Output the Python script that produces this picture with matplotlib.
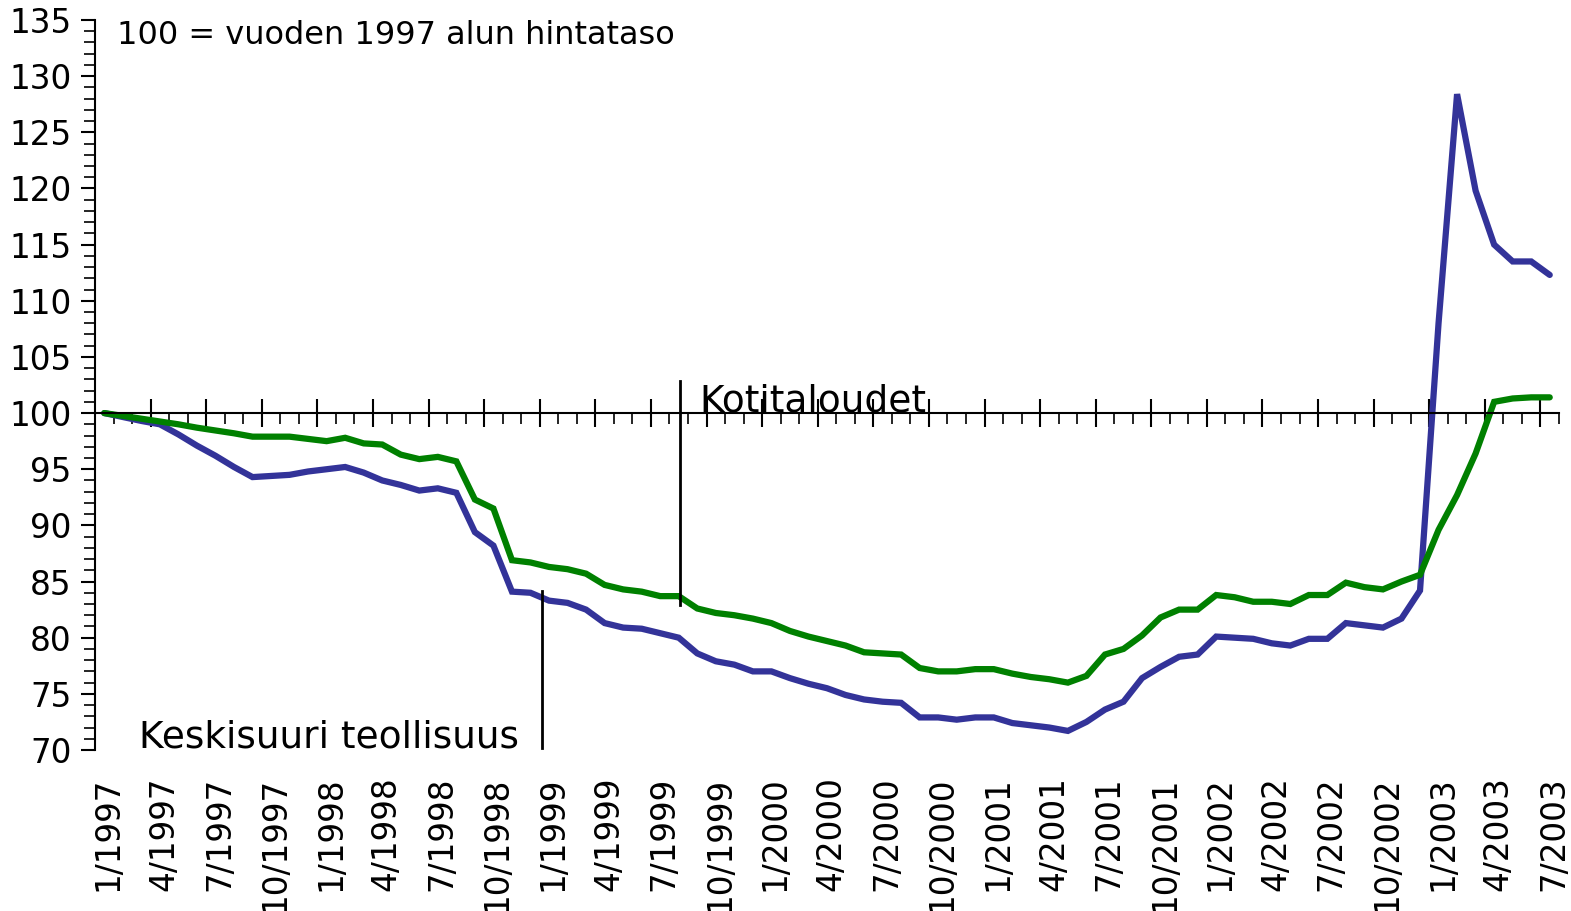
import matplotlib
matplotlib.use("Agg")
import matplotlib.pyplot as plt
import matplotlib.transforms as mtransforms
from matplotlib.ticker import FixedLocator, MultipleLocator

# monthly index 1/1997 .. 7/2003
months = [f"{m}/{y}" for y in range(1997, 2004) for m in range(1, 13)][:79]

# Keskisuuri teollisuus (blue)
industry = [100.0, 99.65, 99.3, 99.0, 98.1, 97.1, 96.2, 95.2, 94.3, 94.4,
            94.5, 94.8, 95.0, 95.2, 94.7, 94.0, 93.6, 93.1, 93.3, 92.9,
            89.4, 88.2, 84.1, 84.0, 83.3, 83.1, 82.5, 81.3, 80.9, 80.8,
            80.4, 80.0, 78.6, 77.9, 77.6, 77.0, 77.0, 76.4, 75.9, 75.5,
            74.9, 74.5, 74.3, 74.2, 72.9, 72.9, 72.7, 72.9, 72.9, 72.4,
            72.2, 72.0, 71.7, 72.5, 73.6, 74.3, 76.4, 77.4, 78.3, 78.5,
            80.1, 80.0, 79.9, 79.5, 79.3, 79.9, 79.9, 81.3, 81.1, 80.9,
            81.7, 84.2, 108.0, 128.4, 119.8, 115.0, 113.5, 113.5, 112.3]

# Kotitaloudet (green)
households = [100.0, 99.75, 99.5, 99.25, 99.0, 98.7, 98.45, 98.2, 97.9, 97.9,
              97.9, 97.7, 97.5, 97.8, 97.3, 97.2, 96.3, 95.9, 96.1, 95.7,
              92.3, 91.5, 86.9, 86.7, 86.3, 86.1, 85.7, 84.7, 84.3, 84.1,
              83.7, 83.7, 82.6, 82.2, 82.0, 81.7, 81.3, 80.6, 80.1, 79.7,
              79.3, 78.7, 78.6, 78.5, 77.3, 77.0, 77.0, 77.2, 77.2, 76.8,
              76.5, 76.3, 76.0, 76.6, 78.5, 79.0, 80.2, 81.8, 82.5, 82.5,
              83.8, 83.6, 83.2, 83.2, 83.0, 83.8, 83.8, 84.9, 84.5, 84.3,
              85.0, 85.6, 89.6, 92.7, 96.4, 101.0, 101.3, 101.4, 101.4]

tick_idx = list(range(0, 79, 3))
tick_labels = [months[i] for i in tick_idx]

plt.rcParams['font.family'] = ['DejaVu Sans']

fig = plt.figure(figsize=(15.71, 9.11), dpi=100)
ax = fig.add_axes([95 / 1571, 1 - 750 / 911, 1464 / 1571, 730 / 911])

x = list(range(len(months)))
ax.plot(x, industry, color='#333399', linewidth=4.5, solid_joinstyle='miter', solid_capstyle='round')
ax.plot(x, households, color='#008000', linewidth=4.5, solid_joinstyle='miter', solid_capstyle='round')

ax.set_xlim(-0.5, 78.5)
ax.set_ylim(70, 135)

# horizontal axis crosses at 100
ax.spines['top'].set_visible(False)
ax.spines['right'].set_visible(False)
ax.spines['bottom'].set_position(('data', 100))
ax.spines['bottom'].set_linewidth(1.5)
ax.spines['left'].set_linewidth(1.5)
ax.xaxis.set_major_locator(FixedLocator([k - 0.5 for k in range(3, 80, 3)]))
ax.xaxis.set_minor_locator(FixedLocator([k - 0.5 for k in range(0, 80)]))
ax.tick_params(axis='x', which='major', direction='inout', length=20, width=1.5, labelbottom=False)
ax.tick_params(axis='x', which='minor', direction='out', length=8, width=1.2)

ax.yaxis.set_major_locator(MultipleLocator(5))
ax.yaxis.set_minor_locator(MultipleLocator(1))
ax.tick_params(axis='y', which='major', direction='out', length=10, width=1.5, labelsize=23.5, pad=7)
ax.tick_params(axis='y', which='minor', direction='out', length=8, width=1.2)

# category labels at the bottom
sec = ax.secondary_xaxis(0)
sec.set_xticks(tick_idx)
sec.set_xticklabels(tick_labels, rotation=90, fontsize=23.5)
sec.tick_params(length=0, pad=19)
sec.spines['bottom'].set_visible(False)
shift = mtransforms.ScaledTranslation(4 / 100, 0, fig.dpi_scale_trans)
for lab in sec.get_xticklabels():
    lab.set_transform(lab.get_transform() + shift)

# annotations
ax.text(0.015, 0.979, '100 = vuoden 1997 alun hintataso', transform=ax.transAxes,
        fontsize=23, va='center', ha='left')
ax.plot([31.05, 31.05], [82.9, 102.9], color='black', linewidth=2)
ax.text(32.1, 100.1, 'Kotitaloudet', fontsize=27, va='baseline', ha='left')
ax.plot([23.6, 23.6], [70.2, 84.2], color='black', linewidth=2)
ax.text(1.9, 70.25, 'Keskisuuri teollisuus', fontsize=27, va='baseline', ha='left')

fig.savefig('out.png', dpi=100)
